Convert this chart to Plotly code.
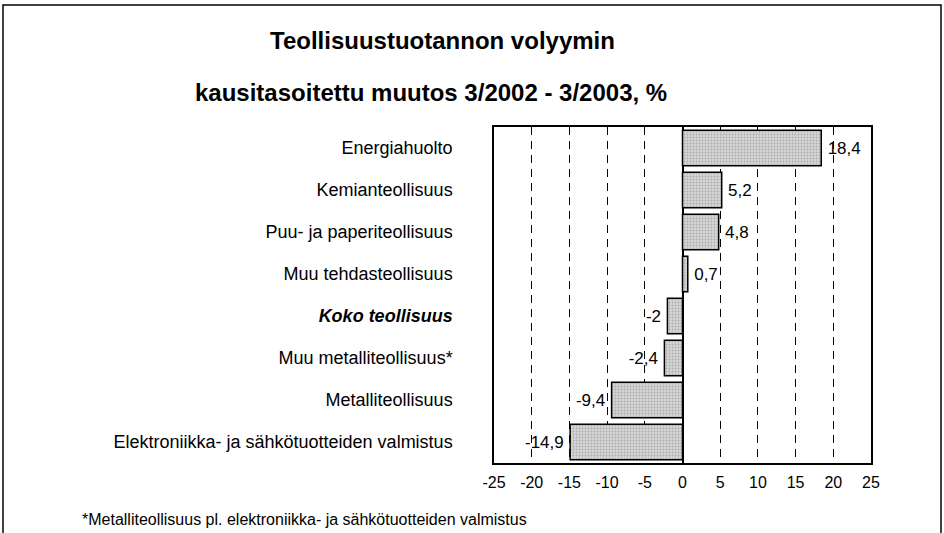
import plotly.graph_objects as go

categories = [
    "Energiahuolto",
    "Kemianteollisuus",
    "Puu- ja paperiteollisuus",
    "Muu tehdasteollisuus",
    "Koko teollisuus",
    "Muu metalliteollisuus*",
    "Metalliteollisuus",
    "Elektroniikka- ja sähkötuotteiden valmistus",
]
values = [18.4, 5.2, 4.8, 0.7, -2.0, -2.4, -9.4, -14.9]
tick_vals = [-25, -20, -15, -10, -5, 0, 5, 10, 15, 20, 25]

title_lines = ["Teollisuustuotannon volyymin", "kausitasoitettu muutos 3/2002 - 3/2003, %"]
footnote = "*Metalliteollisuus pl. elektroniikka- ja sähkötuotteiden valmistus"

W, H = 944, 533
L, R, T, B = 494, 871, 127, 463

ticktext = [f"<b><i>{c}</i></b>" if c == "Koko teollisuus" else c for c in categories]


def fmt(v):
    s = str(v).replace(".", ",") if v != int(v) else str(int(v))
    # small padding between bar end and label
    return "\u2009" + s if v >= 0 else s + "\u2009"


labels = [fmt(v) for v in values]

FONT = "Liberation Sans, Arial, sans-serif"

fig = go.Figure()
fig.add_trace(go.Bar(
    x=values,
    y=categories,
    orientation="h",
    marker=dict(
        color="#c8c8c8",
        line=dict(color="black", width=1.5),
        pattern=dict(shape=".", fgcolor="#808080", bgcolor="#d6d6d6", size=3, solidity=0.3),
    ),
    text=labels,
    texttemplate="%{text}",
    textposition="outside",
    textfont=dict(family=FONT, size=17, color="black"),
    cliponaxis=False,
    width=0.84,
))

fig.update_layout(
    width=W, height=H,
    margin=dict(l=L, r=W - R, t=T, b=H - B),
    paper_bgcolor="white",
    plot_bgcolor="white",
    showlegend=False,
    font=dict(family=FONT, size=18, color="black"),
    separators=",.",
)

fig.update_xaxes(
    range=[-25, 25],
    tickvals=tick_vals,
    ticktext=[str(t) for t in tick_vals],
    showgrid=True,
    gridcolor="black",
    griddash="8px,6px",
    gridwidth=1,
    zeroline=True,
    zerolinecolor="black",
    zerolinewidth=1.5,
    showline=True,
    linecolor="black",
    linewidth=1.5,
    mirror=True,
    ticks="",
    tickfont=dict(size=16),
    ticklabelstandoff=4,
)
fig.update_yaxes(
    categoryorder="array",
    categoryarray=categories[::-1],
    tickvals=categories,
    ticktext=ticktext,
    showline=True,
    linecolor="black",
    linewidth=1.5,
    mirror=True,
    ticks="",
    showgrid=False,
    ticklabelstandoff=36,
    tickfont=dict(size=18),
)


def px(xp):
    return (xp - L) / (R - L)


def py(yp):
    return (B - yp) / (B - T)


# outer frame
fig.add_shape(type="rect", xref="paper", yref="paper",
              x0=px(3), x1=px(941), y0=py(545), y1=py(5),
              line=dict(color="black", width=1.5), fillcolor="rgba(0,0,0,0)", layer="above")

fig.add_annotation(text=f"<b>{title_lines[0]}</b>", xref="paper", yref="paper",
                   x=px(442), y=py(40), showarrow=False, font=dict(size=24),
                   xanchor="center", yanchor="middle")
fig.add_annotation(text=f"<b>{title_lines[1]}</b>", xref="paper", yref="paper",
                   x=px(193), y=py(93), showarrow=False, font=dict(size=24),
                   xanchor="left", yanchor="middle")
fig.add_annotation(text=footnote, xref="paper", yref="paper",
                   x=px(80), y=py(519), showarrow=False, font=dict(size=16),
                   xanchor="left", yanchor="middle")

fig.write_html("out.html", config={"displayModeBar": False},
               post_script="document.body.style.margin='0';")
